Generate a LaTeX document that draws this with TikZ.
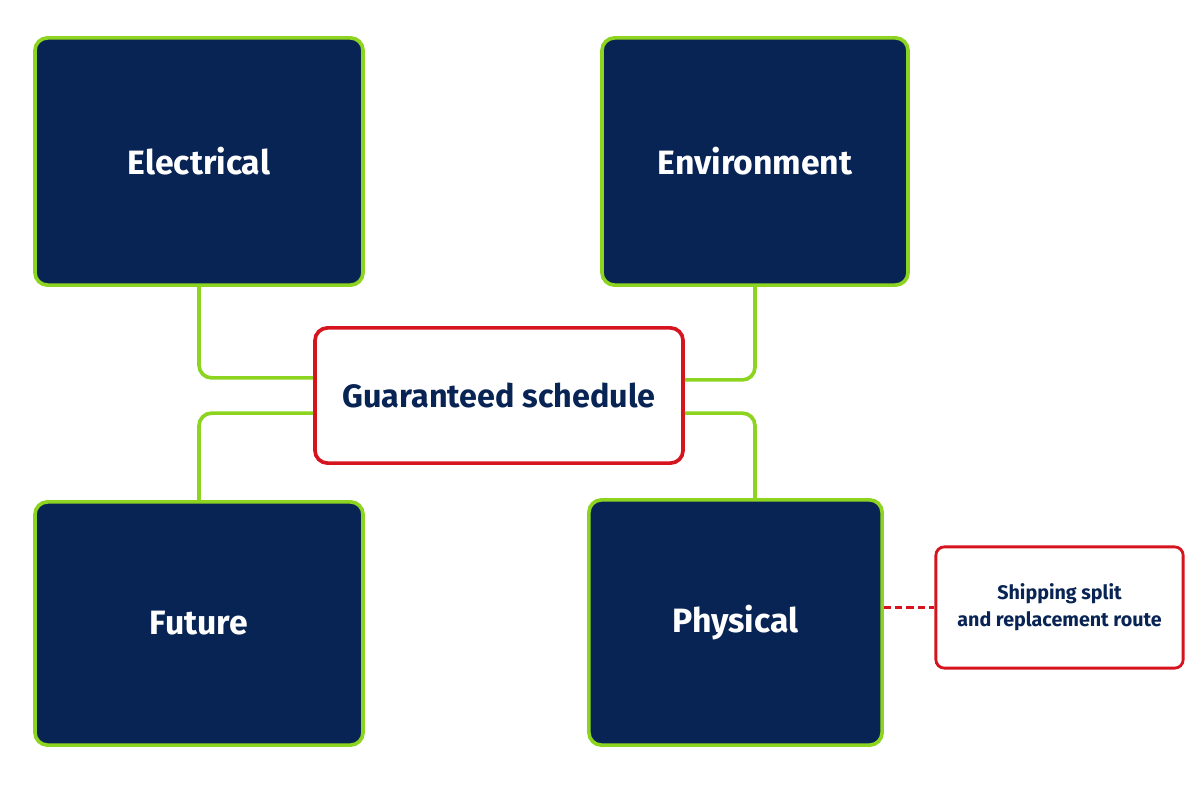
\documentclass[tikz,border=0pt]{standalone}
\usepackage{fontspec}
\setmainfont{Fira Sans}
\usetikzlibrary{positioning,calc}
\definecolor{navy}{RGB}{8,36,84}
\definecolor{lime}{RGB}{140,212,32}
\definecolor{alert}{RGB}{214,20,30}
\begin{document}
\begin{tikzpicture}[x=0.025cm,y=-0.025cm,
	block/.style={rectangle,rounded corners=9pt,line width=2.6pt,draw=lime,fill=navy,text=white,font=\fontsize{24}{28}\selectfont\bfseries},
	hub/.style={rectangle,rounded corners=9pt,line width=2.6pt,draw=alert,fill=white,text=navy,font=\fontsize{23}{27}\selectfont\bfseries},
	note/.style={rectangle,rounded corners=6pt,line width=2pt,draw=alert,fill=white,text=navy,align=center,font=\fontsize{14}{19}\selectfont\bfseries},
	link/.style={line width=2.6pt,draw=lime,rounded corners=9pt}]
	\useasboundingbox (0,0) rectangle (1200,800);
	
	\node [block,minimum width=8.2cm,minimum height=6.18cm] (elec) at (199,161.5) {Electrical};
	\node [block,minimum width=7.65cm,minimum height=6.18cm] (env) at (755,161.5) {Environment};
	\node [block,minimum width=8.2cm,minimum height=6.08cm] (fut) at (199,623.5) {Future};
	\node [block,minimum width=7.33cm,minimum height=6.13cm] (phys) at (735.5,622.5) {Physical};
	\node [hub,minimum width=9.2cm,minimum height=3.38cm] (ctr) at (499,395.5) {Guaranteed schedule};
	\node [note,minimum width=6.18cm,minimum height=3.03cm] (split) at (1059.5,607.5) {Shipping split\\and replacement route};
	
	\draw [link] (elec.south) |- ([yshift=0.44cm]ctr.west);
	\draw [link] ([yshift=-0.44cm]ctr.west) -| (fut.north);
	\draw [link] (env.south) |- ([yshift=0.39cm]ctr.east);
	\draw [link] ([yshift=-0.44cm]ctr.east) -| (phys.north -| env.south);
	\draw [alert,line width=2pt,dash pattern=on 5pt off 3pt] (phys.east |- split.west) -- (split.west);
\end{tikzpicture}
\end{document}
